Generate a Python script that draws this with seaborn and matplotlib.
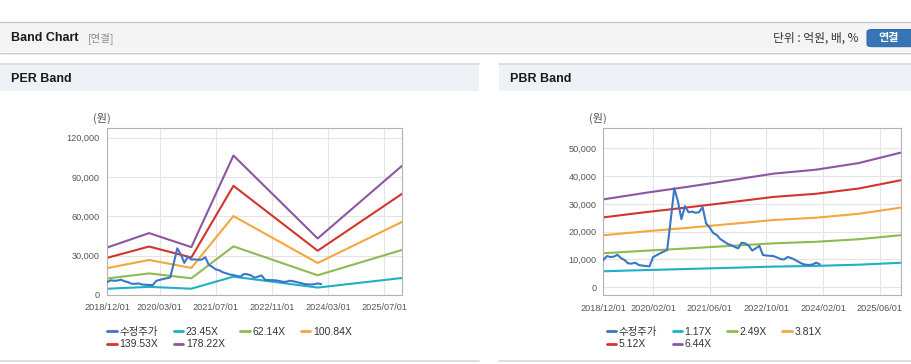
import pandas as pd
import numpy as np
import matplotlib
matplotlib.use("Agg")
import matplotlib.pyplot as plt
import seaborn as sns
from matplotlib.lines import Line2D
from matplotlib.patches import Rectangle, FancyBboxPatch
from matplotlib.ticker import FuncFormatter
from matplotlib.font_manager import FontProperties, findfont

# ---- data ----
price = [9800, 11200, 10900, 11000, 11700, 10500, 9800, 8600, 8500, 8850,
         8000, 7800, 7650, 7500, 10800, 11500, 12200, 12800, 13400, 24000,
         35600, 31000, 24500, 29200, 27000, 27200, 26800, 27000, 28800, 23000,
         21500, 19500, 18800, 17300, 16500, 15600, 15200, 14500, 14000, 16000,
         15800, 15000, 13200, 14000, 14900, 11600, 11400, 11300, 11200, 10700,
         10100, 10000, 10900, 10500, 9900, 9200, 8500, 8100, 8000, 8200,
         8850, 8300]
price_start = "2018-12-01"

per_dates = ["2018-12-01", "2019-12-01", "2020-12-01", "2021-12-01", "2023-12-01", "2025-12-01"]
per_labels = ["23.45X", "62.14X", "100.84X", "139.53X", "178.22X"]
per_23 = [4760, 6210, 4810, 14000, 5670, 12970]
per_62 = [12610, 16470, 12740, 37100, 15040, 34360]
per_100 = [20470, 26720, 20670, 60200, 24400, 55760]
per_139 = [28320, 36980, 28600, 83300, 33770, 77160]
per_178 = [36180, 47230, 36540, 106400, 43130, 98560]
per_ticks = ["2018/12/01", "2020/03/01", "2021/07/01", "2022/11/01", "2024/03/01", "2025/07/01"]

pbr_dates = ["2018-12-01", "2019-12-01", "2020-12-01", "2021-12-01",
             "2022-12-01", "2023-12-01", "2024-12-01", "2025-12-01"]
pbr_labels = ["1.17X", "2.49X", "3.81X", "5.12X", "6.44X"]
pbr_1 = [5740, 6180, 6580, 7000, 7430, 7690, 8120, 8810]
pbr_2 = [12230, 13150, 13990, 14890, 15810, 16360, 17280, 18750]
pbr_3 = [18710, 20120, 21410, 22780, 24190, 25030, 26440, 28690]
pbr_5 = [25140, 27030, 28770, 30620, 32510, 33640, 35530, 38550]
pbr_6 = [31620, 34000, 36190, 38510, 40890, 42310, 44690, 48490]
pbr_ticks = ["2018/12/01", "2020/02/01", "2021/06/01", "2022/10/01", "2024/02/01", "2025/06/01"]

price_name = "수정주가"
price_color = "#3a76c6"
band_colors = ["#1fb0c6", "#8dbb50", "#f4a73c", "#d3352b", "#8e55a2"]

W, H = 912, 364


def has_font(name):
    try:
        findfont(FontProperties(family=name), fallback_to_default=False)
        return True
    except Exception:
        return False


narrow = "Liberation Sans Narrow" if has_font("Liberation Sans Narrow") else "Liberation Sans"
LATIN = ["Liberation Sans", "Noto Sans CJK KR"]
HEAD = [narrow, "Noto Sans CJK KR"]
KOR = ["Noto Sans CJK KR", "Liberation Sans"]


def fx(x):
    return x / W


def fy(y):
    return 1 - y / H


def box(fig, x0, y0, x1, y1, color):
    fig.add_artist(Rectangle((fx(x0), fy(y1)), fx(x1) - fx(x0), fy(y0) - fy(y1),
                             transform=fig.transFigure, fc=color, ec="none", zorder=0))


def hline(fig, x0, x1, y, color, lw=1.0):
    fig.add_artist(Line2D([fx(x0), fx(x1)], [fy(y), fy(y)], transform=fig.transFigure,
                          color=color, lw=lw * 0.72, zorder=1))


def draw_band(fig, rect, band_dates, bands, labels, ticks, ylim, yticks, legend_x):
    ax = fig.add_axes(rect)
    ax.set_facecolor("white")

    long = []
    for lab, vals in zip(labels, bands):
        long.append(pd.DataFrame({"date": pd.to_datetime(band_dates), "value": vals, "band": lab}))
    df = pd.concat(long, ignore_index=True)
    sns.lineplot(data=df, x="date", y="value", hue="band", hue_order=labels,
                 palette=band_colors, linewidth=1.5, legend=False, ax=ax)

    pdf = pd.DataFrame({"date": pd.date_range(price_start, periods=len(price), freq="MS"),
                        "value": price})
    sns.lineplot(data=pdf, x="date", y="value", color=price_color, linewidth=1.5,
                 legend=False, ax=ax, zorder=5)

    tick_dates = pd.to_datetime(ticks, format="%Y/%m/%d")
    ax.set_xlim(pd.Timestamp("2018-12-01"), pd.Timestamp("2025-12-01"))
    ax.set_xticks(tick_dates)
    ax.set_xticklabels(ticks)
    ax.set_ylim(*ylim)
    ax.set_yticks(yticks)
    ax.yaxis.set_major_formatter(FuncFormatter(lambda v, p: f"{v:,.0f}"))
    ax.set_xlabel("")
    ax.set_ylabel("")

    ax.grid(True, color="#e4e4e4", linewidth=0.8)
    ax.set_axisbelow(True)
    for s in ax.spines.values():
        s.set_color("#b3b3b3")
        s.set_linewidth(0.8)
    ax.tick_params(axis="x", length=3, color="#b3b3b3", pad=3, labelsize=6.6, labelcolor="#555555")
    ax.tick_params(axis="y", length=0, pad=5, labelsize=6.6, labelcolor="#555555")
    for t in ax.get_xticklabels() + ax.get_yticklabels():
        t.set_fontfamily(LATIN)

    names = [price_name] + labels
    cols = [price_color] + band_colors
    handles = [Line2D([], [], color=c, lw=2) for c in cols]
    order = [0, 4, 1, 5, 2, 3]
    leg = fig.legend([handles[i] for i in order], [names[i] for i in order],
                     loc="upper left", bbox_to_anchor=(fx(legend_x), fy(327.0)),
                     bbox_transform=fig.transFigure, ncol=4, frameon=False,
                     borderpad=0, borderaxespad=0, handlelength=0.9, handletextpad=0.25,
                     columnspacing=1.5, labelspacing=0.22,
                     prop=FontProperties(family=LATIN, size=7.5))
    for t in leg.get_texts():
        t.set_color("#333333")
    return ax


sns.set_style("white")
plt.rcParams["font.family"] = LATIN

fig = plt.figure(figsize=(W / 100, H / 100), dpi=100)
fig.patch.set_facecolor("white")

# top header bar
box(fig, 0, 22, W, 52, "#f4f4f4")
hline(fig, 0, W, 22, "#c3c3c3", 1.2)
hline(fig, 0, W, 52.5, "#cfcfcf", 1.2)
hline(fig, 0, W, 53.5, "#e8e8e8", 1.0)
fig.text(fx(11), fy(38), "Band Chart", family=HEAD, weight="bold", size=9,
         color="#1a1a1a", va="center", ha="left")
fig.text(fx(88), fy(38), "[연결]", family=KOR, size=7.5, color="#8a8a8a", va="center", ha="left")
fig.text(fx(859), fy(38), "단위 : 억원, 배, %", family=KOR, size=8.5, color="#333333",
         va="center", ha="right")
fig.add_artist(FancyBboxPatch((fx(867), fy(46.7)), fx(60), fy(29.5) - fy(46.7),
                              boxstyle="round,pad=0,rounding_size=0.006",
                              transform=fig.transFigure, fc="#3675b6", ec="#2d65a0",
                              lw=0.7, zorder=2))
fig.text(fx(889), fy(38), "연결", family=KOR, weight="bold", size=8, color="white",
         va="center", ha="center", zorder=3)

# panel headers
for x0, x1, title in [(0, 479, "PER Band"), (499, W, "PBR Band")]:
    box(fig, x0, 64, x1, 91, "#eef2f7")
    hline(fig, x0, x1, 64, "#d4d7db", 1.5)
    hline(fig, x0, x1, 361, "#d4d4d4", 1.5)
    fig.text(fx(x0 + 11), fy(79), title, family=HEAD, weight="bold", size=9,
             color="#1a1a1a", va="center", ha="left")

per_rect = [fx(107), fy(295), fx(402) - fx(107), fy(128) - fy(295)]
pbr_rect = [fx(603.3), fy(295.3), fx(901.3) - fx(603.3), fy(128.3) - fy(295.3)]

draw_band(fig, per_rect, per_dates, [per_23, per_62, per_100, per_139, per_178],
          per_labels, per_ticks, (0, 127400), [0, 30000, 60000, 90000, 120000], 107.5)
draw_band(fig, pbr_rect, pbr_dates, [pbr_1, pbr_2, pbr_3, pbr_5, pbr_6],
          pbr_labels, pbr_ticks, (-2900, 57200), [0, 10000, 20000, 30000, 40000, 50000], 606.5)

fig.text(fx(101.5), fy(118), "(원)", family=KOR, size=8, color="#555555", va="center", ha="center")
fig.text(fx(598), fy(118), "(원)", family=KOR, size=8, color="#555555", va="center", ha="center")

fig.savefig("out.png", dpi=100, facecolor=fig.get_facecolor())
